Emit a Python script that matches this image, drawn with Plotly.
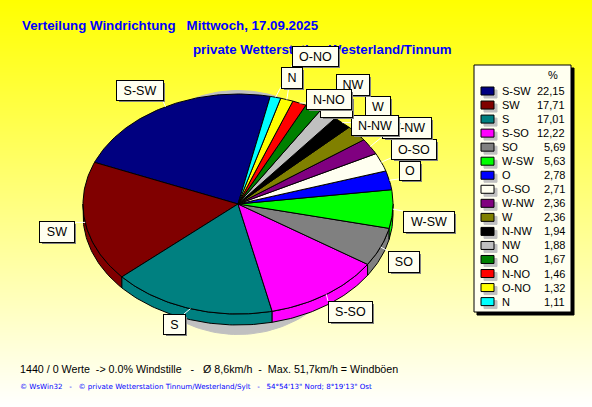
import math
import plotly.graph_objects as go

# ---- data ----
directions = ["S-SW", "SW", "S", "S-SO", "SO", "W-SW", "O", "O-SO",
              "W-NW", "W", "N-NW", "NW", "NO", "N-NO", "O-NO", "N"]
percent = [22.15, 17.71, 17.01, 12.22, 5.69, 5.63, 2.78, 2.71,
           2.36, 2.36, 1.94, 1.88, 1.67, 1.46, 1.32, 1.11]
percent_labels = ["22,15", "17,71", "17,01", "12,22", "5,69", "5,63", "2,78", "2,71",
                  "2,36", "2,36", "1,94", "1,88", "1,67", "1,46", "1,32", "1,11"]
title_1 = "Verteilung Windrichtung\u00a0\u00a0\u00a0Mittwoch, 17.09.2025"
title_2 = "private Wetterstation Westerland/Tinnum"
info = ("1440 / 0 Werte\u00a0\u00a0-> 0.0% Windstille\u00a0\u00a0\u00a0-\u00a0\u00a0\u00a0"
        "Ø 8,6km/h\u00a0\u00a0-\u00a0\u00a0Max. 51,7km/h = Windböen")
footer = ("© WsWin32\u00a0\u00a0\u00a0-\u00a0\u00a0\u00a0© private Wetterstation Tinnum/Westerland/Sylt"
          "\u00a0\u00a0\u00a0-\u00a0\u00a0\u00a054°54'13\" Nord; 8°19'13\" Ost")

# ---- styles / layout ----
colors = ["#000080", "#800000", "#008080", "#FF00FF", "#808080", "#00FF00", "#0000FF", "#FFFFF0",
          "#800080", "#808000", "#000000", "#C0C0C0", "#008000", "#FF0000", "#FFFF00", "#00FFFF"]
CX, CY, RX, RY, DEPTH = 238, 204, 155, 110, 11
START = 12.0   # degrees clockwise from top; slices run counter-clockwise
IVORY = "#FFFFF0"
boxes = {
    "S-SW": (116, 80, 162, 99), "SW": (39, 221, 73, 241), "S": (163, 314, 184, 333),
    "S-SO": (328, 301, 371, 321), "SO": (388, 251, 418, 271), "W-SW": (403, 211, 453, 231),
    "O": (399, 161, 419, 179), "O-SO": (391, 139, 435, 158), "W-NW": (382, 117, 430, 137),
    "W": (365, 96, 389, 116), "N-NW": (351, 115, 397, 134), "NW": (336, 74, 368, 94),
    "NO": (320, 96, 351, 116), "N-NO": (306, 89, 350, 108), "O-NO": (292, 46, 337, 65),
    "N": (281, 67, 301, 87),
}


def rim(deg, dy=0, rx=RX, ry=RY, cy=CY):
    t = math.radians(deg)
    return CX + rx * math.sin(t), cy - ry * math.cos(t) + dy


def arc(a0, a1, dy=0):
    n = max(2, int(abs(a1 - a0)) + 2)
    return [rim(a0 + (a1 - a0) * i / (n - 1), dy) for i in range(n)]


def poly(pts, fill, line="#000000", width=1):
    return go.Scatter(x=[p[0] for p in pts], y=[p[1] for p in pts], mode="lines",
                      fill="toself", fillcolor=fill, line=dict(color=line, width=width),
                      hoverinfo="skip", showlegend=False)


fig = go.Figure()

# page gradient
rows = list(range(0, 408))
fig.add_trace(go.Heatmap(x=[0, 592], y=rows, z=[[r, r] for r in rows], showscale=False,
                         colorscale=[[0, "#FFFF00"], [1, "#FFFFFF"]], hoverinfo="skip"))

# drop shadow of the pie
shadow = [rim(d, rx=124, ry=122, cy=212.5) for d in range(0, 361, 2)]
fig.add_trace(poly(shadow, "#C0C0C0", "#C0C0C0"))

# angular extents of the slices
spans, a = [], START
for p in percent:
    b = a - p * 3.6
    spans.append((b, a))
    a = b

# side wall (front half only), then top faces
for (lo, hi), c in zip(spans, colors):
    for k in (0, -360):
        l2, h2 = max(lo, 90 + k), min(hi, 270 + k)
        if h2 > l2:
            fig.add_trace(poly(arc(l2, h2) + arc(h2, l2, DEPTH) + [rim(l2)], c))
for (lo, hi), c in zip(spans, colors):
    fig.add_trace(poly([(CX, CY)] + arc(lo, hi) + [(CX, CY)], c))

# leader lines
lx, ly = [], []
for name, (lo, hi) in zip(directions, spans):
    m = (lo + hi) / 2
    px, py = rim(m)
    x0, y0, x1, y1 = boxes[name]
    lx += [px, min(max(px, x0), x1), None]
    ly += [py, min(max(py, y0), y1), None]
fig.add_trace(go.Scatter(x=lx, y=ly, mode="lines", line=dict(color="#FFFFFF", width=1),
                         hoverinfo="skip", showlegend=False))

shapes, annots = [], []


def rect(x0, y0, x1, y1, fill, line=None):
    shapes.append(dict(type="rect", xref="x", yref="y", x0=x0, y0=y0, x1=x1, y1=y1,
                       fillcolor=fill, layer="above",
                       line=dict(color=line or fill, width=1)))


def text(x, y, s, size=11, color="#000000", anchor="left", family="Liberation Sans", bold=False):
    annots.append(dict(x=x, y=y, xref="x", yref="y", text=f"<b>{s}</b>" if bold else s,
                       showarrow=False, xanchor=anchor, yanchor="middle",
                       font=dict(family=family, size=size, color=color)))


# legend panel
rect(477, 68, 574, 315, "#000000")
rect(474, 65, 571, 312, IVORY, "#000000")
text(553, 74.5, "%", anchor="center")
for i, (name, val, c) in enumerate(zip(directions, percent_labels, colors)):
    y = 91 + i * 14.04
    rect(484, y - 1, 497, y + 7, "#C0C0C0")
    rect(481, y - 4, 494, y + 4, c, "#000000")
    text(500, y, name)
    text(567, y, val, anchor="right")

# titles and notes
text(20, 25, title_1, size=13.3, color="#0000FF", bold=True)
text(191, 49, title_2, size=13.3, color="#0000FF", bold=True)
text(18, 369, info, size=10.7)
text(18, 386, footer, size=7.1, color="#0000FF", family="DejaVu Sans")

# pie labels: shadow then box, in stacking order
for name in directions:
    x0, y0, x1, y1 = boxes[name]
    for off, bg, fg, bw in ((3, "#808080", "#808080", 0), (0, IVORY, "#000000", 1)):
        annots.append(dict(x=x0 + off, y=y0 + off, xref="x", yref="y", text=name,
                           showarrow=False, xanchor="left", yanchor="top",
                           width=x1 - x0, height=y1 - y0,
                           align="center", valign="middle", bgcolor=bg,
                           bordercolor="#000000", borderwidth=bw, borderpad=0,
                           font=dict(family="Liberation Sans", size=12.5, color=fg)))

fig.update_layout(
    width=592, height=407, margin=dict(l=0, r=0, t=0, b=0),
    paper_bgcolor="#FFFFFF", plot_bgcolor="rgba(0,0,0,0)", showlegend=False,
    xaxis=dict(range=[0, 592], visible=False, fixedrange=True),
    yaxis=dict(range=[407, 0], visible=False, fixedrange=True),
    shapes=shapes, annotations=annots,
)
fig.write_html("out.html", config=dict(displayModeBar=False),
               post_script="document.body.style.margin='0';document.body.style.overflow='hidden';")
